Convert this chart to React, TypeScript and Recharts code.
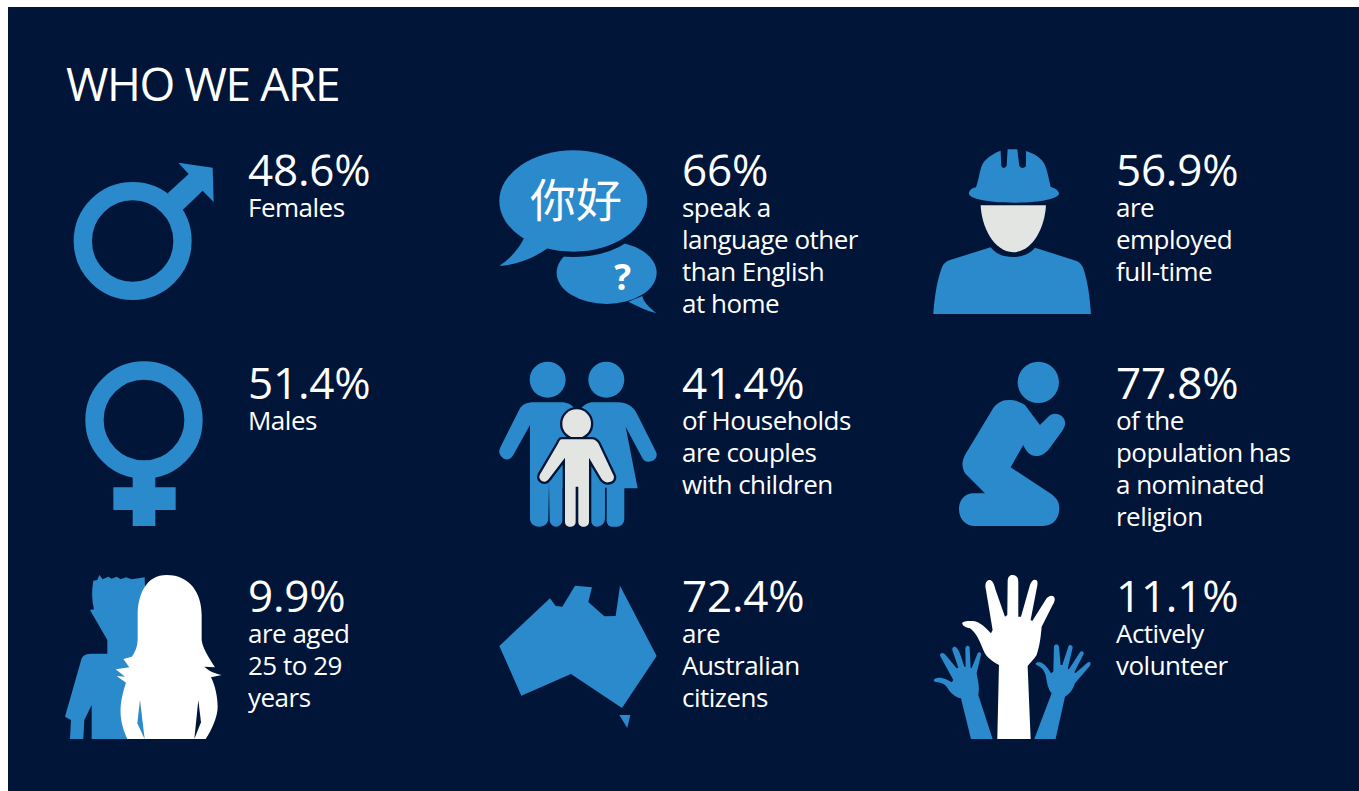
import { ScatterChart, Scatter, XAxis, YAxis } from 'recharts';

const NAVY = '#001538';
const BLUE = '#2b8acb';
const GREY = '#e3e5e3';
const FONT = '"Open Sans", sans-serif';

const columns = [0, 0, 0, 1, 1, 1, 2, 2, 2];
const rows = [0, 1, 2, 0, 1, 2, 0, 1, 2];
const percents = [48.6, 51.4, 9.9, 66, 41.4, 72.4, 56.9, 77.8, 11.1];
const labels = [
	['Females'],
	['Males'],
	['are aged', '25 to 29', 'years'],
	['speak a', 'language other', 'than English', 'at home'],
	['of Households', 'are couples', 'with children'],
	['are', 'Australian', 'citizens'],
	['are', 'employed', 'full-time'],
	['of the', 'population has', 'a nominated', 'religion'],
	['Actively', 'volunteer']
];
const icons = ['male', 'female', 'youth', 'speech', 'family', 'australia', 'worker', 'pray', 'hands'];

const table = percents.map((value, i) => ({
	col: columns[i],
	row: rows[i],
	value,
	lines: labels[i],
	icon: icons[i]
}));

// icons are traced in 3x crop pixels, dx/dy is the crop origin seen from the value text
const iconArt: Record<string, { dx: number; dy: number; art: any }> = {
	male: {
		dx: -248,
		dy: -186,
		art: (
			<>
				<circle cx={398} cy={723} r={149.5} fill="none" stroke={BLUE} strokeWidth={55} />
				<polygon points="503,580 566,522 535,488 638,503 641,606 608,572 548,630" fill={BLUE} />
			</>
		)
	},
	female: {
		dx: -178,
		dy: -49,
		art: (
			<>
				<circle cx={222} cy={210} r={148.5} fill="none" stroke={BLUE} strokeWidth={55} />
				<polygon points="188,370 256,370 256,412 317,412 317,480 256,480 256,528 188,528 188,480 130,480 130,412 188,412" fill={BLUE} />
			</>
		)
	},
	speech: {
		dx: -202,
		dy: -56,
		art: (
			<>
				<ellipse cx={380} cy={428} rx={150} ry={94} fill={BLUE} />
				<path d="M445 515 C475 530 500 542 530 550 C510 535 490 515 487 498 Z" fill={BLUE} />
				<ellipse cx={280} cy={213} rx={222} ry={152} fill={NAVY} stroke={NAVY} strokeWidth={32} />
				<ellipse cx={280} cy={213} rx={222} ry={152} fill={BLUE} />
				<path d="M132 325 C115 360 85 390 58 408 C110 405 160 385 203 355 Z" fill={BLUE} />
				<text x={288} y={262} textAnchor="middle" fontSize={138} fill="#fff" fontFamily='"Noto Sans CJK SC"'>你好</text>
				<text x={428} y={480} textAnchor="middle" fontSize={106} fontWeight={700} fill="#fff" fontFamily={FONT}>?</text>
			</>
		)
	},
	worker: {
		dx: -196,
		dy: -56,
		art: (
			<>
				<path d="M168 172 C150 176 147 185 147 192 C150 205 200 218 282 218 C365 218 415 205 417 192 C417 180 405 175 392 170 C385 140 380 105 365 90 C350 75 335 68 318 63 L318 108 Q308 120 298 108 L292 58 L263 58 L260 108 Q250 120 244 108 L242 62 C225 68 205 80 192 95 C180 110 178 145 168 172 Z" fill={BLUE} />
				<path d="M182 226 L378 226 C375 290 340 365 280 367 C220 365 185 290 182 226 Z" fill={GREY} />
				<path d="M212 352 C230 375 255 381 280 381 C305 381 330 372 345 353 L470 393 C480 397 485 403 490 415 C505 460 510 510 513 552 L40 552 C43 510 50 455 65 415 C70 400 80 393 90 390 Z" fill={BLUE} />
			</>
		)
	},
	family: {
		dx: -202,
		dy: -54,
		art: (
			<>
				<circle cx={203} cy={104} r={54} fill={BLUE} />
				<circle cx={379} cy={104} r={54} fill={BLUE} />
				<path d="M160 172 L245 172 C260 172 275 178 285 192 L300 430 L248 430 L248 520 C248 535 240 545 228 545 C217 545 209 535 209 525 L207 410 L205 520 C205 535 195 545 178 545 C160 545 150 535 150 520 L150 240 L100 330 C92 345 75 348 65 335 C55 325 57 315 62 305 L120 190 C128 178 142 172 160 172 Z" fill={BLUE} />
				<path d="M300 195 C310 180 325 172 340 172 L415 172 C440 172 460 185 470 205 L528 320 C535 335 525 350 505 350 C495 350 490 345 485 335 L437 245 L473 430 L433 430 L433 520 C433 535 425 545 410 545 L395 545 C385 545 380 535 380 525 L380 428 L375 428 L375 520 C375 535 365 545 350 545 C340 545 333 535 333 525 L333 430 L300 430 Z" fill={BLUE} />
				<circle cx={290} cy={236} r={43} fill={GREY} stroke={NAVY} strokeWidth={14} paintOrder="stroke" />
				<path d="M245 283 L335 283 C345 283 350 288 355 295 L400 390 C405 400 400 410 385 412 C375 413 370 408 365 402 L327 338 L327 530 C327 540 320 545 310 545 C300 545 295 538 295 530 L295 425 L287 425 L287 530 C287 540 280 545 270 545 C260 545 255 538 255 530 L255 338 L208 400 C200 412 190 413 182 405 C175 398 178 390 185 380 L235 295 C238 288 240 283 245 283 Z" fill={GREY} stroke={NAVY} strokeWidth={14} paintOrder="stroke" />
			</>
		)
	},
	pray: {
		dx: -176,
		dy: -54,
		art: (
			<>
				<circle cx={295} cy={112} r={62} fill={BLUE} />
				<path d="M205 165 C180 165 165 180 155 197 L75 330 C65 350 65 365 75 385 L135 445 L100 445 C75 445 57 465 57 492 C57 520 75 543 105 543 L310 543 C340 543 358 520 358 490 C358 470 350 460 335 448 L212 367 L250 300 C258 318 268 333 290 333 C305 333 315 325 325 315 L365 260 C380 240 378 225 365 213 C350 203 335 205 325 215 L300 240 L255 180 C240 170 225 165 205 165 Z" fill={BLUE} />
			</>
		)
	},
	youth: {
		dx: -198,
		dy: -52,
		art: (
			<>
				<path d="M148 45 L158 58 L175 50 L185 56 L200 50 L212 58 L228 52 L245 58 L265 55 L284 52 L285 80 L290 300 L240 537 L125 537 L125 435 L103 480 L100 537 L60 537 L63 480 L45 470 L95 295 C100 285 110 281 125 281 L172 281 L172 240 L120 150 L132 148 C125 120 125 90 130 62 L142 60 Z" fill={BLUE} />
				<path d="M350 45 C420 45 455 100 455 165 L455 240 C458 265 475 290 495 322 L463 320 C480 335 495 340 515 345 L483 352 C495 375 503 410 503 440 C503 470 485 510 467 537 L232 537 C215 500 210 470 212 440 C215 410 222 385 228 368 L200 348 L225 350 L197 328 L238 322 L220 297 L245 290 C258 275 263 255 263 235 L263 160 C265 100 290 45 350 45 Z" fill="#fff" />
				<polygon points="270,420 262,490 284,537" fill={BLUE} />
				<polygon points="445,420 433,537 453,487" fill={NAVY} />
			</>
		)
	},
	australia: {
		dx: -192,
		dy: -42,
		art: (
			<>
				<polygon points="28,228 180,85 197,108 217,110 255,47 306,52 295,96 343,139 377,138 390,47 500,258 396,414 243,312 94,377" fill={BLUE} />
				<polygon points="388,435 421,435 412,474" fill={BLUE} />
			</>
		)
	},
	hands: {
		dx: -191,
		dy: -47,
		art: (
			<>
				<path d="M138 522 L108 400 C85 395 75 380 65 365 C55 352 40 352 30 350 C22 345 28 340 40 338 C55 337 70 345 80 352 L85 345 L47 275 C42 268 50 262 55 265 C62 268 70 280 80 292 L95 310 L100 308 L82 255 C80 248 88 243 93 247 C100 252 105 265 110 280 L118 305 L122 305 L121 250 C122 240 132 240 134 248 L137 308 L140 310 L158 265 C162 258 170 262 168 270 L155 325 C158 345 165 365 160 390 L203 522 Z" fill={BLUE} />
				<path d="M328 522 L380 385 C370 375 365 350 362 330 C355 310 345 305 335 300 C328 295 335 290 345 292 C360 295 372 315 378 325 L385 320 L387 245 C388 235 400 235 402 245 L407 300 L412 300 L430 245 C433 237 443 240 443 248 L428 312 L432 313 L465 262 C470 255 478 260 476 267 L448 322 L452 324 L487 293 C495 288 500 295 495 302 L450 355 C445 370 438 385 420 395 L392 522 Z" fill={BLUE} />
				<path d="M217 522 L222 300 C205 290 185 280 175 255 C165 230 155 205 135 190 C120 188 110 180 112 173 C115 168 130 167 145 168 C165 170 185 190 198 205 L203 195 L183 75 C178 55 185 45 195 45 C205 48 208 60 212 75 L240 155 L247 150 L248 50 C248 35 255 30 263 30 C272 30 280 35 280 50 L280 155 L288 155 L315 60 C320 48 325 42 333 45 C340 48 338 60 335 72 L317 165 L322 168 L365 100 C372 92 380 90 387 95 C392 102 388 112 383 120 L350 185 C348 210 345 240 335 270 C325 285 315 295 308 303 L317 522 Z" fill="#fff" />
			</>
		)
	}
};

function StatCell(props: any) {
	const { cx, cy, payload } = props;
	const { dx, dy, art } = iconArt[payload.icon];
	return (
		<g>
			<g transform={`translate(${cx + dx},${cy + dy}) scale(${1 / 3})`}>{art}</g>
			<text x={cx} y={cy} fill="#fff" fontFamily={FONT} fontSize={44} letterSpacing={-0.2}>{`${payload.value}%`}</text>
			{payload.lines.map((line: string, i: number) => (
				<text key={line} x={cx} y={cy + 31 + i * 32} fill="#fff" fontFamily={FONT} fontSize={26} letterSpacing={-0.5}>{line}</text>
			))}
		</g>
	);
}

export default function App() {
	return (
		<div style={{ position: 'absolute', left: 8, top: 7, width: 1351, height: 784, background: NAVY }}>
			<ScatterChart width={1351} height={784} margin={{ top: 0, right: 0, bottom: 0, left: 0 }}>
				<XAxis type="number" dataKey="col" domain={[-0.553, 2.56]} hide />
				<YAxis type="number" dataKey="row" domain={[-0.8404, 2.8404]} reversed hide />
				<Scatter data={table} isAnimationActive={false} shape={StatCell} />
				<text x={58} y={94} fill="#fff" fontFamily={FONT} fontSize={46} letterSpacing={-1.4}>WHO WE ARE</text>
			</ScatterChart>
		</div>
	);
}
